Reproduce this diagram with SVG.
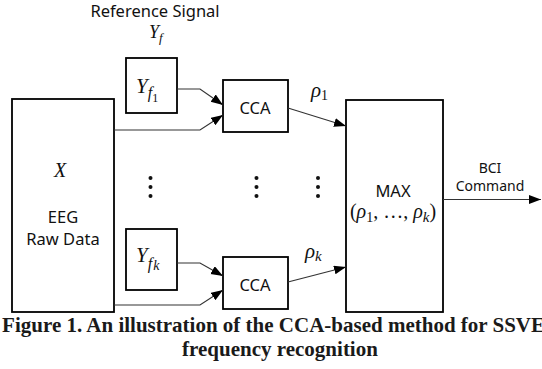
<svg xmlns="http://www.w3.org/2000/svg" width="542" height="369" viewBox="0 0 542 369">
<style>
.box{fill:#fff;stroke:#000;stroke-width:1.8}
.lbl{font-family:"Noto Sans","Open Sans",sans-serif;font-size:16.5px;fill:#111;text-anchor:middle}
.sm{font-size:14px}
.m{font-family:"Liberation Serif","DejaVu Serif",serif;font-style:italic;fill:#111}
.con{fill:none;stroke:#333;stroke-width:1.2}
.cap{font-family:"Liberation Serif","Times New Roman",serif;font-weight:bold;font-size:21px;fill:#1a1a1a;text-anchor:middle}
.dot{fill:#111}
</style>
<defs>
<marker id="ah" markerUnits="userSpaceOnUse" markerWidth="13" markerHeight="10" refX="12" refY="4.5" orient="auto">
<path d="M0,0 L12,4.5 L0,9 z" fill="#000"/>
</marker>
</defs>
<g id="ref-label">
<text class="lbl" x="155" y="17">Reference Signal</text>
<text class="m" x="149" y="38" font-size="18">Y<tspan font-size="13" dy="4">f</tspan></text>
</g>
<g id="eeg">
<rect class="box" x="12" y="99" width="102" height="213"/>
<text class="m" x="60" y="177" font-size="20" text-anchor="middle">X</text>
<text class="lbl" x="63" y="223">EEG</text>
<text class="lbl" x="63" y="245">Raw Data</text>
</g>
<g id="yf1">
<rect class="box" x="126" y="58" width="51" height="55"/>
<text class="m" x="136" y="93" font-size="21">Y<tspan font-size="16" dy="5">f</tspan><tspan font-size="12" dy="4" font-style="normal">1</tspan></text>
</g>
<g id="yfk">
<rect class="box" x="126" y="229" width="51" height="61"/>
<text class="m" x="136" y="262" font-size="21">Y<tspan font-size="16" dy="7">f</tspan><tspan font-size="14" dx="1" dy="1">k</tspan></text>
</g>
<g id="cca1">
<rect class="box" x="223" y="80" width="65" height="52"/>
<text class="lbl" x="255" y="114">CCA</text>
</g>
<g id="ccak">
<rect class="box" x="223" y="257" width="65" height="52"/>
<text class="lbl" x="255" y="291">CCA</text>
</g>
<g id="max">
<rect class="box" x="346" y="100" width="97" height="212"/>
<text class="lbl" x="393" y="197">MAX</text>
<text class="m" x="393" y="218" font-size="20" text-anchor="middle"><tspan font-style="normal">(</tspan>ρ<tspan font-size="14" dy="4" font-style="normal">1</tspan><tspan dy="-4" font-style="normal">, …, </tspan>ρ<tspan font-size="15" dy="4">k</tspan><tspan dy="-4" font-style="normal">)</tspan></text>
</g>
<g id="dots">
<circle class="dot" cx="150.5" cy="178" r="2"/><circle class="dot" cx="150.5" cy="187" r="2"/><circle class="dot" cx="150.5" cy="196" r="2"/>
<circle class="dot" cx="256.5" cy="178" r="2"/><circle class="dot" cx="256.5" cy="187" r="2"/><circle class="dot" cx="256.5" cy="196" r="2"/>
<circle class="dot" cx="318" cy="178" r="2"/><circle class="dot" cx="318" cy="187" r="2"/><circle class="dot" cx="318" cy="196" r="2"/>
</g>
<g id="connectors">
<path class="con" d="M177,89 H200 L223,105" marker-end="url(#ah)"/>
<path class="con" d="M114,130 H200 L223,115" marker-end="url(#ah)"/>
<path class="con" d="M177,263 H200 L223,276" marker-end="url(#ah)"/>
<path class="con" d="M114,305 H200 L223,290" marker-end="url(#ah)"/>
<path class="con" d="M288,108 L346,126" marker-end="url(#ah)"/>
<path class="con" d="M288,282 L346,267" marker-end="url(#ah)"/>
<path class="con" d="M443,199.5 H541" marker-end="url(#ah)"/>
</g>
<g id="edge-labels">
<text class="m" x="311" y="97" font-size="21">ρ<tspan font-size="14" dy="3" font-style="normal">1</tspan></text>
<text class="m" x="305" y="258" font-size="21">ρ<tspan font-size="15" dy="3">k</tspan></text>
<text class="lbl sm" x="490" y="173">BCI</text>
<text class="lbl sm" x="490" y="191">Command</text>
</g>
<g id="caption">
<text class="cap" x="280" y="332">Figure 1. An illustration of the CCA-based method for SSVEP</text>
<text class="cap" x="280" y="356">frequency recognition</text>
</g>
</svg>
